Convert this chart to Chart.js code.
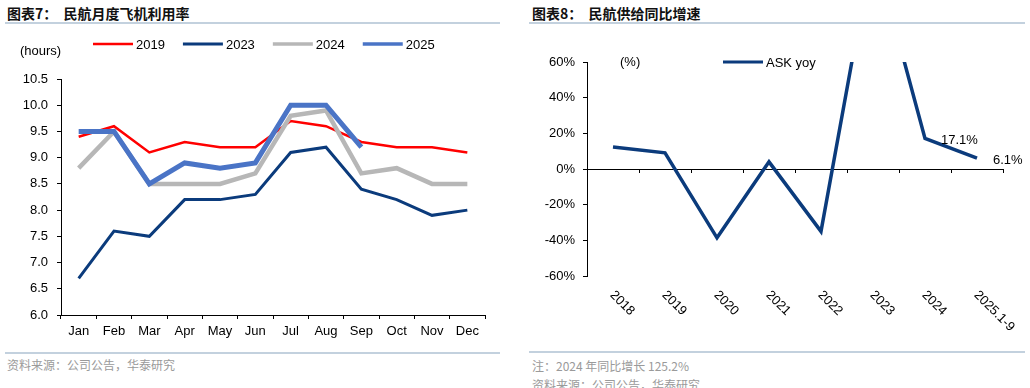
<!DOCTYPE html>
<html>
<head>
<meta charset="utf-8">
<script src="https://cdn.jsdelivr.net/npm/chart.js@4.4.1/dist/chart.umd.min.js"></script>
<style>
  body { margin: 0; width: 1030px; height: 388px; background: #fff; position: relative; overflow: hidden; font-family: "Liberation Sans", Arial, sans-serif; }
  .title { position: absolute; top: 3px; font: bold 14px "Noto Sans CJK SC", sans-serif; color: #111; white-space: pre; }
  .rule { position: absolute; height: 2px; background: #c3d1de; }
  .foot { position: absolute; font: 12px "Noto Sans CJK SC", sans-serif; color: #9a9a9a; white-space: pre; }
  .box { position: absolute; top: 0; }
</style>
</head>
<body>
<div class="title" style="left:7px">图表7：  民航月度飞机利用率</div>
<div class="rule" style="left:5px; width:495px; top:22px"></div>
<div class="title" style="left:532px">图表8：  民航供给同比增速</div>
<div class="rule" style="left:529px; width:496px; top:22px"></div>

<div class="box" style="left:0; width:510px; height:345px"><canvas id="util" width="510" height="345"></canvas></div>
<div class="box" style="left:515px; width:515px; height:345px"><canvas id="ask" width="515" height="345"></canvas></div>

<div class="rule" style="left:5px; width:495px; top:352px"></div>
<div class="foot" style="left:7px; top:356px">资料来源：公司公告，华泰研究</div>
<div class="rule" style="left:529px; width:496px; top:351px"></div>
<div class="foot" style="left:532px; top:357px">注：2024 年同比增长 125.2%</div>
<div class="foot" style="left:532px; top:376px">资料来源：公司公告，华泰研究</div>

<script>
const months = ['Jan', 'Feb', 'Mar', 'Apr', 'May', 'Jun', 'Jul', 'Aug', 'Sep', 'Oct', 'Nov', 'Dec'];
const util2019 = [9.4, 9.6, 9.1, 9.3, 9.2, 9.2, 9.7, 9.6, 9.3, 9.2, 9.2, 9.1];
const util2023 = [6.7, 7.6, 7.5, 8.2, 8.2, 8.3, 9.1, 9.2, 8.4, 8.2, 7.9, 8.0];
const util2024 = [8.8, 9.5, 8.5, 8.5, 8.5, 8.7, 9.8, 9.9, 8.7, 8.8, 8.5, 8.5];
const util2025 = [9.5, 9.5, 8.5, 8.9, 8.8, 8.9, 10.0, 10.0, 9.2];

const askYears = ['2018', '2019', '2020', '2021', '2022', '2023', '2024', '2025.1-9'];
const askYoy = [12.4, 9.1, -38.6, 4.0, -35.0, 125.2, 17.1, 6.1];
const askLabelled = { 6: '17.1%', 7: '6.1%' };

const FONT = "'Liberation Sans', Arial, sans-serif";
Chart.defaults.font.family = FONT;
Chart.defaults.font.size = 13;
Chart.defaults.color = '#000';

// legend drawn by hand so it sits exactly where the original one does
function lineLegend(items, unit) {
    return {
        id: 'lineLegend',
        afterDraw(chart) {
            const ctx = chart.ctx;
            ctx.save();
            ctx.font = '13px ' + FONT;
            ctx.textBaseline = 'middle';
            ctx.fillStyle = '#000';
            ctx.fillText(unit.text, unit.x, unit.y);
            let x = items.x;
            items.list.forEach(it => {
                ctx.strokeStyle = it.color;
                ctx.lineWidth = it.width;
                ctx.beginPath();
                ctx.moveTo(x, items.y);
                ctx.lineTo(x + 40, items.y);
                ctx.stroke();
                ctx.fillStyle = '#000';
                ctx.fillText(it.label, x + 43, items.y + 1);
                x += 43 + ctx.measureText(it.label).width + 18;
            });
            ctx.restore();
        }
    };
}

const series = [
    { label: '2019', data: util2019, color: '#ff0000', width: 2.5, order: 2 },
    { label: '2023', data: util2023, color: '#0b3b7c', width: 3, order: 3 },
    { label: '2024', data: util2024, color: '#b7b7b7', width: 4.5, order: 1 },
    { label: '2025', data: util2025, color: '#4a74c6', width: 5, order: 0 }
];

new Chart(document.getElementById('util'), {
    type: 'line',
    data: {
        labels: months,
        datasets: series.map(s => ({
            label: s.label,
            data: s.data,
            borderColor: s.color,
            backgroundColor: s.color,
            borderWidth: s.width,
            pointRadius: 0,
            tension: 0,
            fill: false,
            order: s.order
        }))
    },
    options: {
        responsive: false,
        animation: false,
        layout: { padding: { left: 0, top: 79, right: 25, bottom: 0 } },
        plugins: { legend: { display: false }, tooltip: { enabled: false } },
        scales: {
            x: {
                offset: true,
                grid: { offset: true, drawOnChartArea: false, drawTicks: true, tickLength: 4, color: '#000' },
                border: { display: true, color: '#000', width: 1 },
                ticks: { padding: 5, maxRotation: 0, autoSkip: false },
                afterFit: s => { s.height = 30; }
            },
            y: {
                min: 6, max: 10.5,
                grid: { drawOnChartArea: false, drawTicks: true, tickLength: 4, color: '#000' },
                border: { display: true, color: '#000', width: 1 },
                ticks: { stepSize: 0.5, padding: 9, callback: v => v.toFixed(1) },
                afterFit: s => { s.width = 61; }
            }
        }
    },
    plugins: [lineLegend(
        { x: 93, y: 44, list: series.map(s => ({ label: s.label, color: s.color, width: Math.min(s.width, 3.5) })) },
        { text: '(hours)', x: 20, y: 51 }
    )]
});

// zero line tick marks, slanted year labels and value labels for the ASK chart
const askExtras = {
    id: 'askExtras',
    afterDraw(chart) {
        const ctx = chart.ctx;
        const xs = chart.scales.x, ys = chart.scales.y;
        const y0 = ys.getPixelForValue(0);
        const half = (xs.getPixelForValue(1) - xs.getPixelForValue(0)) / 2;
        ctx.save();
        ctx.strokeStyle = '#000';
        ctx.lineWidth = 1;
        askYears.forEach((_, i) => {
            const bx = Math.round(xs.getPixelForValue(i) + half) + 0.5;
            ctx.beginPath();
            ctx.moveTo(bx, y0);
            ctx.lineTo(bx, y0 + 4);
            ctx.stroke();
        });
        ctx.font = '13px ' + FONT;
        ctx.fillStyle = '#000';
        ctx.textBaseline = 'middle';
        ctx.textAlign = 'left';
        askYears.forEach((lab, i) => {
            const px = xs.getPixelForValue(i);
            ctx.save();
            ctx.translate(px - 1, chart.chartArea.bottom + 17);
            ctx.rotate(Math.PI / 4);
            ctx.fillText(lab, 0, 0);
            ctx.restore();
        });
        const meta = chart.getDatasetMeta(0);
        Object.keys(askLabelled).forEach(k => {
            const pt = meta.data[k];
            ctx.fillText(askLabelled[k], pt.x + 16, pt.y + 2);
        });
        ctx.restore();
    }
};

new Chart(document.getElementById('ask'), {
    type: 'line',
    data: {
        labels: askYears,
        datasets: [{
            label: 'ASK yoy',
            data: askYoy,
            borderColor: '#0b3b7c',
            backgroundColor: '#0b3b7c',
            borderWidth: 3.5,
            pointRadius: 0,
            tension: 0,
            fill: false,
            clip: { left: 5, top: 0, right: 5, bottom: 5 }
        }]
    },
    options: {
        responsive: false,
        animation: false,
        layout: { padding: { left: 0, top: 62, right: 27, bottom: 0 } },
        plugins: { legend: { display: false }, tooltip: { enabled: false } },
        scales: {
            x: {
                offset: true,
                grid: { display: false },
                border: { display: false },
                ticks: { display: false },
                afterFit: s => { s.height = 69; }
            },
            y: {
                min: -60, max: 60,
                grid: {
                    drawOnChartArea: true, drawTicks: true, tickLength: 4,
                    color: c => (c.tick && c.tick.value === 0 ? '#000' : 'rgba(0,0,0,0)'),
                    tickColor: '#000'
                },
                border: { display: true, color: '#000', width: 1 },
                ticks: { stepSize: 20, padding: 8, callback: v => v + '%' },
                afterFit: s => { s.width = 72; }
            }
        }
    },
    plugins: [askExtras, lineLegend(
        { x: 208, y: 62, list: [{ label: 'ASK yoy', color: '#0b3b7c', width: 3 }] },
        { text: '(%)', x: 105, y: 62 }
    )]
});
</script>
</body>
</html>
